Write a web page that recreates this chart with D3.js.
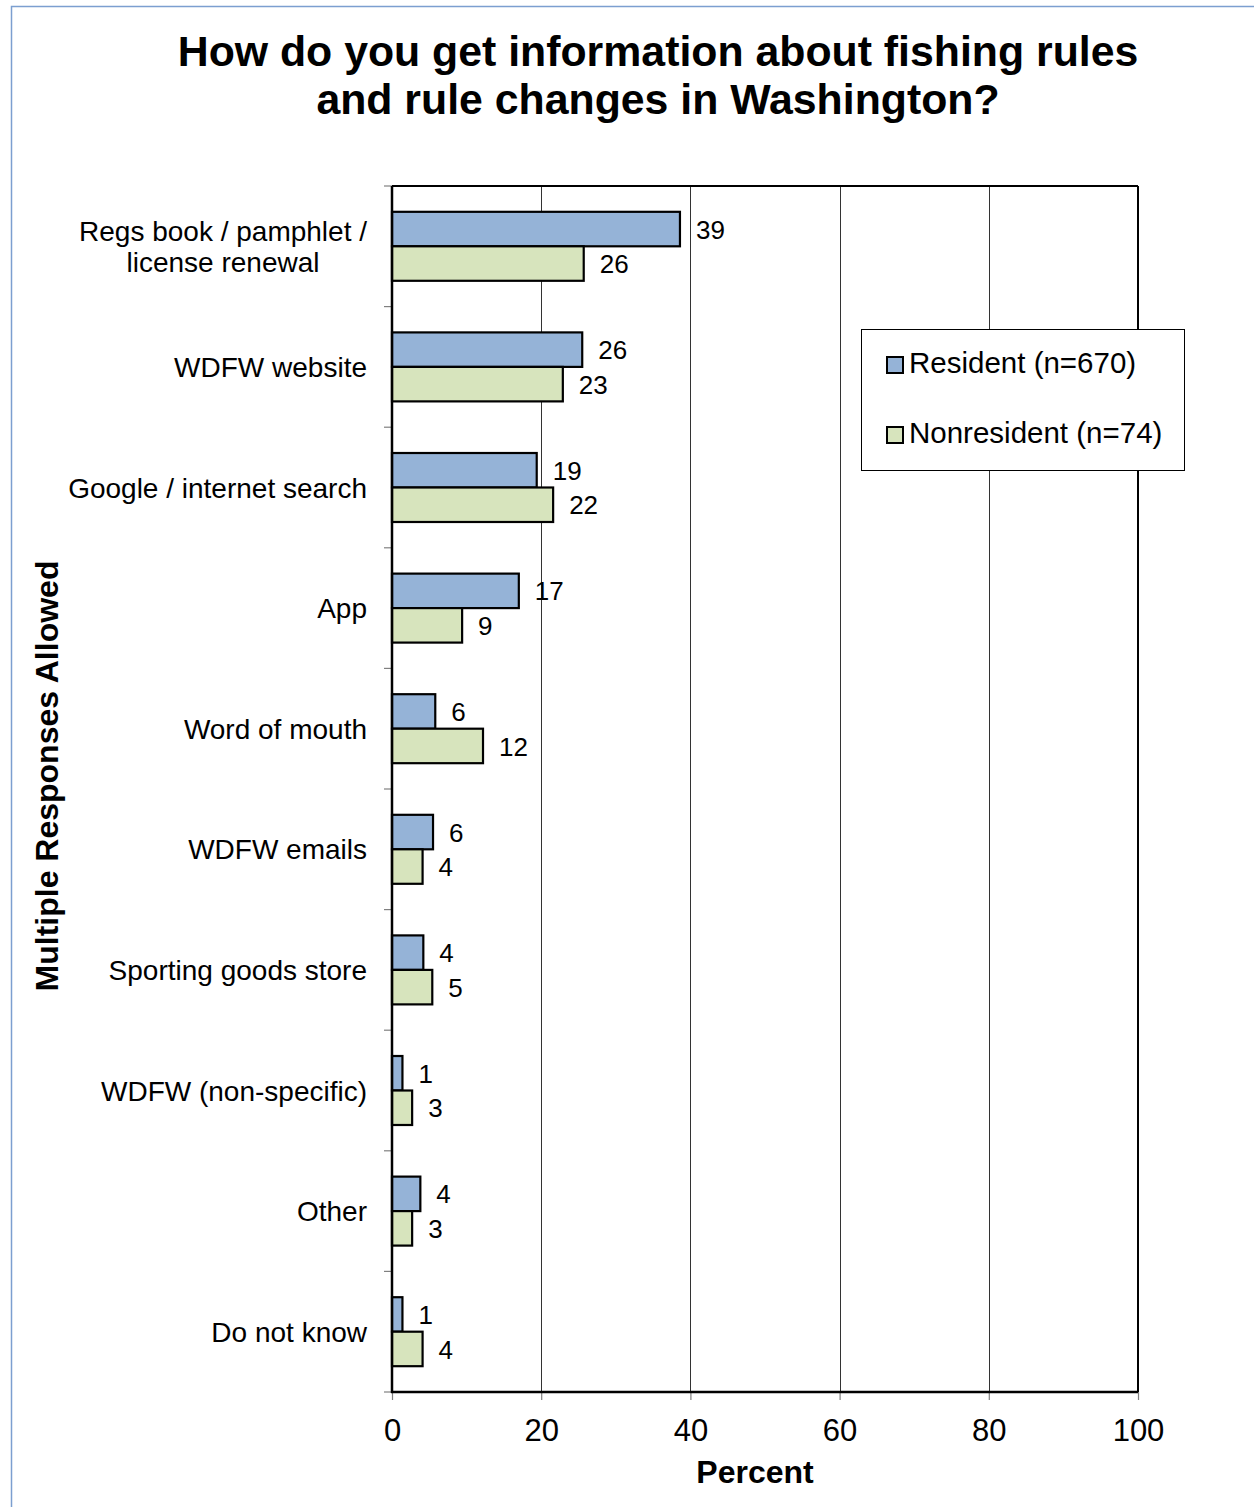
<!DOCTYPE html>
<html>
<head>
<meta charset="utf-8">
<script src="https://cdn.jsdelivr.net/npm/d3@7"></script>
<style>
  html, body { margin: 0; padding: 0; background: #fff; }
  svg { display: block; font-family: "Liberation Sans", Arial, sans-serif; }
</style>
</head>
<body>
<svg id="chart" width="1254" height="1507"></svg>
<script>
// ---- Data ----
const categories = [
  "Regs book / pamphlet /\nlicense renewal",
  "WDFW website",
  "Google / internet search",
  "App",
  "Word of mouth",
  "WDFW emails",
  "Sporting goods store",
  "WDFW (non-specific)",
  "Other",
  "Do not know"
];
const seriesNames = ["Resident (n=670)", "Nonresident (n=74)"];
const residentValues    = [38.6, 25.5, 19.4, 17.0, 5.8, 5.5, 4.2, 1.4, 3.8, 1.4];
const nonresidentValues = [25.7, 22.9, 21.6, 9.4, 12.2, 4.1, 5.4, 2.7, 2.7, 4.1];
const xTickValues = [0, 20, 40, 60, 80, 100];
const titleLines = ["How do you get information about fishing rules", "and rule changes in Washington?"];
const xTitle = "Percent";
const yTitle = "Multiple Responses Allowed";

// ---- Layout ----
const svg = d3.select("#chart");
const plot = { left: 392, right: 1138, top: 186, bottom: 1392 };
const colors = ["#95B3D7", "#D7E4BD"];

// outer light-blue frame (left & top visible)
svg.append("rect").attr("x", 11.5).attr("y", 6.5).attr("width", 1400).attr("height", 1600)
  .attr("fill", "none").attr("stroke", "#7C9FD0").attr("stroke-width", 1.5);

const x = d3.scaleLinear().domain([0, 100]).range([plot.left, plot.right]);
const y = d3.scaleBand().domain(categories).range([plot.top, plot.bottom])
  .paddingInner(0.428).paddingOuter(0.214);
const ySub = d3.scaleBand().domain(seriesNames).range([0, y.bandwidth()]);

// title
svg.append("g").selectAll("text").data(titleLines).join("text")
  .attr("x", 658).attr("y", (d, i) => 66 + i * 48)
  .attr("text-anchor", "middle").attr("font-size", 42.8).attr("font-weight", "bold")
  .attr("fill", "#000").text(d => d);

// gridlines
svg.append("g").selectAll("line").data(xTickValues.filter(v => v > 0 && v < 100)).join("line")
  .attr("x1", d => Math.round(x(d)) + 0.5).attr("x2", d => Math.round(x(d)) + 0.5)
  .attr("y1", plot.top).attr("y2", plot.bottom)
  .attr("stroke", "#333").attr("stroke-width", 1);

// plot border top/right
svg.append("line").attr("x1", plot.left).attr("x2", plot.right).attr("y1", plot.top).attr("y2", plot.top)
  .attr("stroke", "#000").attr("stroke-width", 2);
svg.append("line").attr("x1", plot.right).attr("x2", plot.right).attr("y1", plot.top).attr("y2", plot.bottom)
  .attr("stroke", "#000").attr("stroke-width", 2);

// bars
const rows = categories.map((c, i) => ({ cat: c, vals: [residentValues[i], nonresidentValues[i]] }));
const groups = svg.append("g").selectAll("g").data(rows).join("g")
  .attr("transform", d => `translate(0,${y(d.cat)})`);
groups.selectAll("rect").data(d => d.vals.map((v, k) => ({ v, k }))).join("rect")
  .attr("x", x(0)).attr("y", d => ySub(seriesNames[d.k]))
  .attr("width", d => x(d.v) - x(0)).attr("height", ySub.bandwidth())
  .attr("fill", d => colors[d.k]).attr("stroke", "#000").attr("stroke-width", 2.2);
groups.selectAll("text").data(d => d.vals.map((v, k) => ({ v, k }))).join("text")
  .attr("x", d => x(d.v) + 16).attr("y", d => ySub(seriesNames[d.k]) + ySub.bandwidth() / 2)
  .attr("dy", "0.37em").attr("font-size", 26).attr("fill", "#000")
  .text(d => Math.round(d.v));

// y ticks (category boundaries)
const bounds = d3.range(categories.length + 1).map(i => plot.top + i * y.step());
svg.append("g").selectAll("line").data(bounds).join("line")
  .attr("x1", plot.left - 8).attr("x2", plot.left).attr("y1", d => d).attr("y2", d => d)
  .attr("stroke", "#808080").attr("stroke-width", 1.2);

// category labels
const labG = svg.append("g").attr("font-size", 28).attr("fill", "#000");
categories.forEach(c => {
  const lines = c.split("\n");
  const cy = y(c) + y.bandwidth() / 2;
  const lh = 31.7;
  const g = labG.append("g");
  const texts = lines.map((ln, i) => g.append("text")
    .attr("y", cy + (i - (lines.length - 1) / 2) * lh).attr("dy", "0.36em").text(ln));
  const maxW = d3.max(texts, t => t.node().getComputedTextLength());
  const cx = 367 - maxW / 2;
  texts.forEach(t => t.attr("x", cx).attr("text-anchor", "middle"));
});

// x axis
const xAxis = svg.append("g").attr("transform", `translate(0,${plot.bottom})`)
  .call(d3.axisBottom(x).tickValues(xTickValues).tickSize(8).tickFormat(d3.format("d")));
xAxis.select(".domain").remove();
xAxis.selectAll(".tick line").attr("stroke", "#808080").attr("stroke-width", 1.2);
xAxis.selectAll(".tick text").attr("y", 27).attr("font-size", 31)
  .attr("font-family", "Liberation Sans, Arial, sans-serif").attr("fill", "#000");

// axis lines (left & bottom)
svg.append("line").attr("x1", plot.left).attr("x2", plot.left).attr("y1", plot.top).attr("y2", plot.bottom + 1)
  .attr("stroke", "#000").attr("stroke-width", 2.5);
svg.append("line").attr("x1", plot.left - 1).attr("x2", plot.right).attr("y1", plot.bottom).attr("y2", plot.bottom)
  .attr("stroke", "#000").attr("stroke-width", 2.5);

// axis titles
svg.append("text").attr("x", 755).attr("y", 1483).attr("text-anchor", "middle")
  .attr("font-size", 32).attr("font-weight", "bold").text(xTitle);
svg.append("text").attr("transform", "translate(58,776) rotate(-90)").attr("text-anchor", "middle")
  .attr("font-size", 32).attr("font-weight", "bold").text(yTitle);

// legend
const leg = svg.append("g");
leg.append("rect").attr("x", 861.5).attr("y", 329.5).attr("width", 323).attr("height", 141)
  .attr("fill", "#fff").attr("stroke", "#000").attr("stroke-width", 1);
const legItems = leg.selectAll("g").data(seriesNames).join("g")
  .attr("transform", (d, i) => `translate(887,${357 + i * 70})`);
legItems.append("rect").attr("width", 16).attr("height", 16)
  .attr("fill", (d, i) => colors[i]).attr("stroke", "#000").attr("stroke-width", 2);
legItems.append("text").attr("x", 22).attr("y", 16).attr("font-size", 29.5).attr("fill", "#000").text(d => d);
</script>
</body>
</html>
